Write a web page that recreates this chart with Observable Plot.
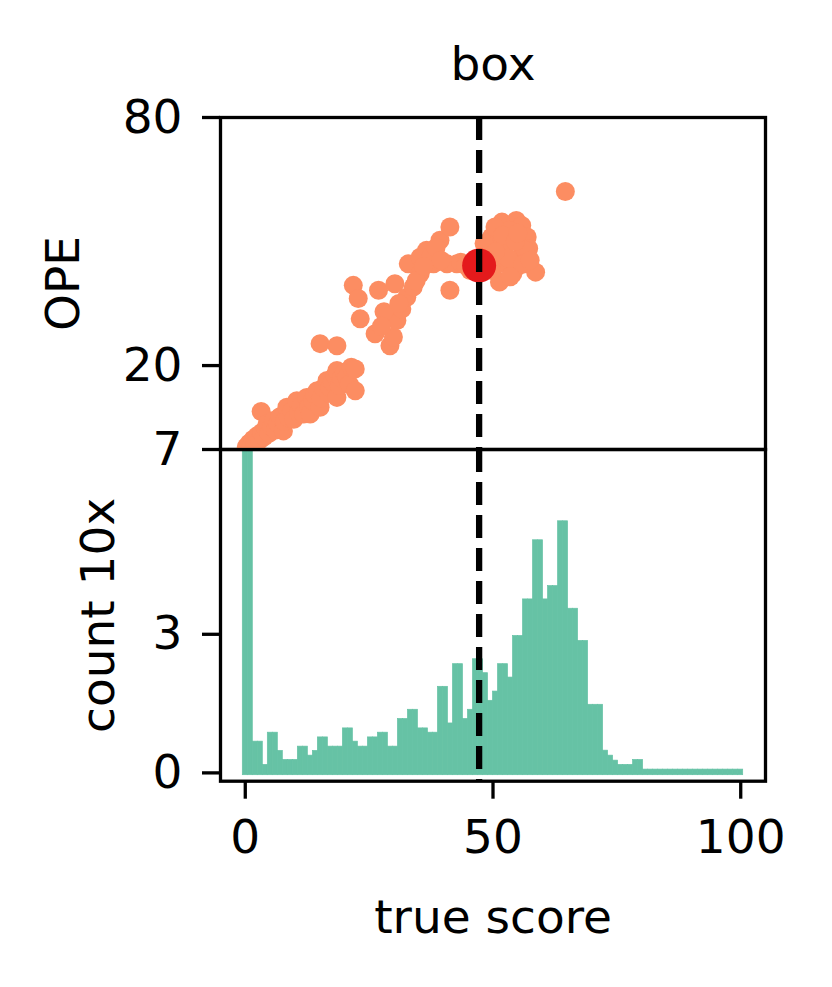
<!DOCTYPE html>
<html><head><meta charset="utf-8">
<script src="https://cdn.jsdelivr.net/npm/d3@7"></script>
<script src="https://cdn.jsdelivr.net/npm/@observablehq/plot@0.6"></script>
<style>
html,body{margin:0;padding:0;background:#fff;}
#chart{position:relative;width:832px;height:987px;background:#fff;overflow:hidden;}
#chart svg{position:absolute;left:0;overflow:visible;background:transparent;}
</style></head><body><div id="chart"></div>
<script>
// ---- data ----
const scatterX = [0.2,0.8,1.2,1.6,2.0,2.4,2.9,3.2,3.3,3.8,4.2,4.4,4.8,5.3,5.7,6.1,6.6,7.0,7.7,7.9,8.4,8.7,9.4,9.8,10.4,10.8,11.3,11.8,12.4,12.8,13.1,13.6,14.0,14.5,15.1,15.3,15.8,16.5,16.8,17.1,17.6,18.1,18.5,18.5,19.0,19.4,20.0,20.5,21.0,21.4,22.2,22.2,
  15.1,18.5,21.8,22.8,23.2,26.9,30.2,26.2,29.2,29.9,30.6,31.6,32.6,33.9,32.9,35.3,36.6,39.3,41.3,38.0,40.7,41.3,42.7,35.3,28.0,27.5,31.0,34.5,37.5,38.5,39.5,43.5,44.5,36.0,
  64.6,51.8,54.7,55.8,56.9,57.2,58.6,51.3,54.7,49.7,49.0,45.4,52.6,55.4,51.1,53.3,50.4,56.5,54.0,49.7,48.2,53.0,56.0,52.0,50.5,54.5,57.5,53.5,48.5,55.0];
const scatterY = [0.3,1.2,0.5,2.2,1.3,3.0,2.0,8.9,3.8,2.8,4.6,5.9,3.6,5.2,6.7,4.4,6.0,7.6,4.2,6.5,9.9,7.4,9.1,7.0,11.5,8.6,10.2,8.3,12.3,10.0,8.3,11.5,13.0,13.9,9.9,12.2,14.6,16.4,13.4,14.7,16.0,17.6,18.8,12.3,15.2,17.0,18.4,17.2,15.5,19.6,19.2,13.9,
  25.3,24.8,39.4,36.2,31.3,38.2,39.8,27.7,24.8,26.9,30.9,33.7,36.5,39.0,44.6,42.2,47.9,50.3,53.5,44.6,44.6,38.2,44.6,46.2,33.0,29.5,35.0,40.5,46.5,48.5,45.5,45.0,44.2,44.0,
  62.1,54.7,55.1,53.9,51.1,48.3,42.6,40.2,43.8,51.1,47.9,43.0,49.5,46.2,44.6,52.7,53.5,47.9,42.2,43.0,49.5,46.0,44.5,51.5,47.5,50.0,45.5,41.5,45.5,52.0];
const highlightX = [47.2];
const highlightY = [44.2];
const cutoffScore = [47.2];
const binStart = -0.5;
const binWidth = 1.01;
const barBase = -0.05;
const binCounts = [8,8,0.676,0.676,0.173,0.87,0.87,0.475,0.28,0.28,
  0.28,0.568,0.568,0.373,0.475,0.768,0.768,0.568,0.568,0.568,
  0.963,0.963,0.676,0.568,0.568,0.768,0.768,0.87,0.87,0.568,
  0.568,1.166,1.166,1.366,1.366,0.963,0.963,0.87,0.87,1.863,
  1.863,1.07,2.353,2.353,1.166,1.366,2.46,2.46,2.158,1.56,
  1.76,2.353,2.353,2.063,2.963,2.963,3.755,3.755,5.035,5.035,
  3.755,4.043,4.043,5.446,5.446,3.553,3.553,2.856,2.856,1.474,
  1.474,1.474,0.481,0.373,0.265,0.173,0.173,0.173,0.28,0.28,
  0.071,0.071,0.071,0.071,0.071,0.071,0.071,0.071,0.071,0.071,
  0.071,0.071,0.071,0.071,0.071,0.071,0.071,0.071,0.071,0.071];
const xTicks = [0, 50, 100];
const opeTicks = [20, 80];
const countTicks = [0, 3, 7];
const titleText = ["box"];

// ---- tables ----
const points = scatterX.map((x, i) => ({x, y: scatterY[i]}));
const highlight = highlightX.map((x, i) => ({x, y: highlightY[i]}));
const bins = binCounts.map((c, i) => ({x1: binStart + i * binWidth, x2: binStart + (i + 1) * binWidth, c}));

const ORANGE = "#fc8d62", GREEN = "#66c2a5", RED = "#e41a1c";
const FS = 47;
const style = {fontFamily: "DejaVu Sans", fontSize: FS + "px", background: "transparent", overflow: "visible", color: "black"};
const xDomain = [-5, 105];

const topPlot = Plot.plot({
  width: 832, height: 449,
  marginLeft: 220, marginRight: 67, marginTop: 117, marginBottom: 0,
  style,
  x: {domain: xDomain, axis: null},
  y: {domain: [-0.3, 80]},
  marks: [
    Plot.dot(points, {x: "x", y: "y", r: 9.5, fill: ORANGE, clip: true}),
    Plot.dot(highlight, {x: "x", y: "y", r: 17, fill: RED}),
    Plot.ruleX(cutoffScore, {stroke: "black", strokeWidth: 6.3, strokeDasharray: "23,10"}),
    Plot.frame({stroke: "black", strokeWidth: 3.3}),
    Plot.axisY({ticks: opeTicks, tickSize: 18, tickPadding: 20, strokeWidth: 3.3, fontSize: FS,
      label: "OPE", labelAnchor: "center", labelOffset: 175, labelArrow: "none"}),
    Plot.text(titleText, {frameAnchor: "top", dy: -38, lineAnchor: "bottom", text: d => d, fontSize: FS})
  ]
});
topPlot.style.top = "0px";

const bottomPlot = Plot.plot({
  width: 832, height: 538,
  marginLeft: 220, marginRight: 67, marginTop: 0, marginBottom: 206.3,
  style,
  x: {domain: xDomain},
  y: {domain: [-0.18, 7]},
  marks: [
    Plot.rectY(bins, {x1: "x1", x2: "x2", y1: barBase, y2: "c", fill: GREEN, stroke: GREEN, strokeWidth: 0.7, inset: 0, clip: true}),
    Plot.ruleX(cutoffScore, {stroke: "black", strokeWidth: 6.3, strokeDasharray: "23,10"}),
    Plot.frame({stroke: "black", strokeWidth: 3.3}),
    Plot.axisY({ticks: countTicks, tickSize: 18, tickPadding: 20, strokeWidth: 3.3, fontSize: FS,
      label: "count 10x", labelAnchor: "center", labelOffset: 140, labelArrow: "none"}),
    Plot.axisX({ticks: xTicks, tickSize: 18, tickPadding: 20, strokeWidth: 3.3, fontSize: FS,
      label: "true score", labelAnchor: "center", labelOffset: 152, labelArrow: "none"})
  ]
});
bottomPlot.style.top = "449px";

const chart = document.getElementById("chart");
chart.appendChild(bottomPlot);
chart.appendChild(topPlot);
</script></body></html>
